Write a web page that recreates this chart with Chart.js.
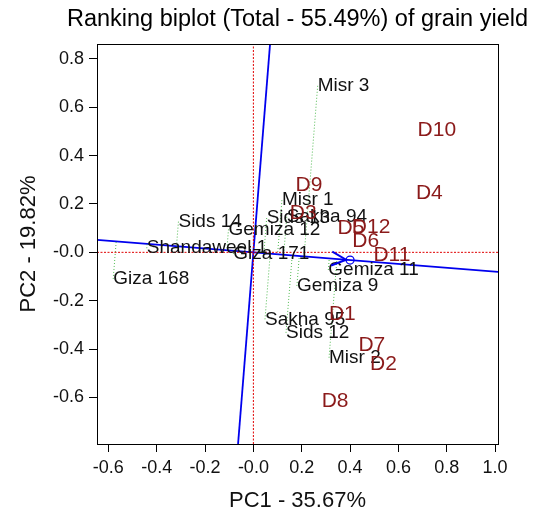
<!DOCTYPE html>
<html>
<head>
<meta charset="utf-8">
<script src="https://cdn.jsdelivr.net/npm/chart.js@4.4.1/dist/chart.umd.min.js"></script>
<style>
  html, body { margin: 0; padding: 0; background: #fff; }
</style>
</head>
<body>
<canvas id="biplot" width="538" height="512"></canvas>
<script>
// axis limits and ticks
const xMin = -0.647, xMax = 1.012;
const yMin = -0.793, yMax = 0.862;
const xTicks = [-0.6, -0.4, -0.2, 0, 0.2, 0.4, 0.6, 0.8, 1.0];
const xTickLabels = ['-0.6', '-0.4', '-0.2', '-0.0', '0.2', '0.4', '0.6', '0.8', '1.0'];
const yTicks = [-0.6, -0.4, -0.2, 0, 0.2, 0.4, 0.6, 0.8];
const yTickLabels = ['-0.6', '-0.4', '-0.2', '-0.0', '0.2', '0.4', '0.6', '0.8'];

// genotypes
const genotypes = ['Misr 3', 'Misr 1', 'Sids 14', 'Sids 13', 'Sakha 94', 'Gemiza 12', 'Shandaweel 1',
  'Giza 171', 'Giza 168', 'Gemiza 11', 'Gemiza 9', 'Sakha 95', 'Sids 12', 'Misr 2'];
const genoPC1 = [0.266, 0.118, -0.310, 0.055, 0.138, -0.103, -0.441, -0.083, -0.580, 0.310, 0.180, 0.048, 0.135, 0.313];
const genoPC2 = [0.689, 0.216, 0.127, 0.142, 0.147, 0.095, 0.017, -0.007, -0.110, -0.073, -0.139, -0.277, -0.333, -0.436];

// environments
const envs = ['D1', 'D2', 'D3', 'D4', 'D5', 'D6', 'D7', 'D8', 'D9', 'D10', 'D11', 'D12'];
const envPC1 = [0.368, 0.538, 0.206, 0.728, 0.404, 0.465, 0.490, 0.338, 0.230, 0.759, 0.573, 0.487];
const envPC2 = [-0.255, -0.462, 0.163, 0.245, 0.101, 0.047, -0.384, -0.615, 0.276, 0.506, -0.011, 0.105];

// average environment coordinate
const aec = [0.400, -0.032];

const FONT = '"Liberation Sans", Arial, sans-serif';
const BLUE = '#0000ee';
const ENV_COLOR = '#8b1a1a';

// ATC abscissa / ordinate through the origin
const slope = aec[1] / aec[0];
const abscissa = [{ x: xMin, y: slope * xMin }, { x: xMax, y: slope * xMax }];
const ordinate = [{ x: -yMin * slope, y: yMin }, { x: -yMax * slope, y: yMax }];

// projection of each genotype on the abscissa
const aa = aec[0] * aec[0] + aec[1] * aec[1];
const projLines = genotypes.map((g, i) => {
  const t = (genoPC1[i] * aec[0] + genoPC2[i] * aec[1]) / aa;
  return {
    type: 'line',
    data: [{ x: genoPC1[i], y: genoPC2[i] }, { x: t * aec[0], y: t * aec[1] }],
    borderColor: 'rgba(40,170,40,0.8)',
    borderWidth: 1,
    borderDash: [1, 2],
    pointRadius: 0
  };
});

const lineSet = (data, color, width, dash) => ({
  type: 'line', data, borderColor: color, borderWidth: width, borderDash: dash || [], pointRadius: 0
});

const labelPlugin = {
  id: 'labels',
  afterDatasetsDraw(chart) {
    const { ctx, scales: { x, y } } = chart;
    ctx.save();
    ctx.textBaseline = 'middle';
    ctx.textAlign = 'left';
    ctx.fillStyle = '#111';
    ctx.font = '19px ' + FONT;
    genotypes.forEach((g, i) => {
      ctx.fillText(g, x.getPixelForValue(genoPC1[i]), y.getPixelForValue(genoPC2[i]));
    });
    ctx.textAlign = 'center';
    ctx.fillStyle = ENV_COLOR;
    ctx.font = '21px ' + FONT;
    envs.forEach((e, i) => {
      ctx.fillText(e, x.getPixelForValue(envPC1[i]), y.getPixelForValue(envPC2[i]));
    });

    // arrow head at the average environment
    const ox = x.getPixelForValue(0), oy = y.getPixelForValue(0);
    const ax = x.getPixelForValue(aec[0]), ay = y.getPixelForValue(aec[1]);
    const ang = Math.atan2(ay - oy, ax - ox);
    const tipX = ax - 4 * Math.cos(ang), tipY = ay - 4 * Math.sin(ang);
    ctx.strokeStyle = BLUE;
    ctx.lineWidth = 2;
    ctx.beginPath();
    ctx.moveTo(tipX - 16 * Math.cos(ang - 0.45), tipY - 16 * Math.sin(ang - 0.45));
    ctx.lineTo(tipX, tipY);
    ctx.lineTo(tipX - 16 * Math.cos(ang + 0.45), tipY - 16 * Math.sin(ang + 0.45));
    ctx.stroke();
    ctx.lineWidth = 1.2;
    ctx.beginPath();
    ctx.arc(ax, ay, 4, 0, Math.PI * 2);
    ctx.stroke();
    ctx.restore();
  },
  afterDraw(chart) {
    const { ctx, chartArea: a } = chart;
    ctx.save();
    ctx.strokeStyle = '#000';
    ctx.lineWidth = 1;
    ctx.strokeRect(a.left + 0.5, a.top + 0.5, a.right - a.left, a.bottom - a.top);
    ctx.fillStyle = '#000';
    ctx.font = '23.5px ' + FONT;
    ctx.textAlign = 'center';
    ctx.textBaseline = 'middle';
    ctx.fillText('Ranking biplot (Total - 55.49%) of grain yield', (a.left + a.right) / 2, 20);
    ctx.restore();
  }
};

new Chart(document.getElementById('biplot'), {
  type: 'scatter',
  data: {
    datasets: [
      lineSet([{ x: xMin, y: 0 }, { x: xMax, y: 0 }], '#e00000', 1, [2, 1.5]),
      lineSet([{ x: 0, y: yMin }, { x: 0, y: yMax }], '#e00000', 1, [2, 1.5]),
      ...projLines,
      lineSet(abscissa, BLUE, 1.8),
      lineSet(ordinate, BLUE, 1.8),
      { data: genotypes.map((g, i) => ({ x: genoPC1[i], y: genoPC2[i] })), pointRadius: 0 },
      { data: envs.map((e, i) => ({ x: envPC1[i], y: envPC2[i] })), pointRadius: 0 }
    ]
  },
  options: {
    responsive: false,
    animation: false,
    layout: { padding: { top: 44, right: 40, left: 0, bottom: 0 } },
    plugins: { legend: { display: false }, tooltip: { enabled: false } },
    scales: {
      x: {
        type: 'linear', min: xMin, max: xMax,
        afterBuildTicks: s => { s.ticks = xTicks.map(v => ({ value: v })); },
        afterFit: s => { s.height = 68; },
        ticks: {
          callback: (v, i) => xTickLabels[i],
          font: { family: FONT, size: 18 }, color: '#111', padding: 5, maxRotation: 0, autoSkip: false
        },
        grid: { drawOnChartArea: false, drawTicks: true, tickLength: 8, color: '#000' },
        border: { display: true, color: '#000' },
        title: { display: true, text: 'PC1 - 35.67%', color: '#111', font: { family: FONT, size: 22, lineHeight: 1 }, padding: { top: 0, bottom: 0 } }
      },
      y: {
        type: 'linear', min: yMin, max: yMax,
        afterBuildTicks: s => { s.ticks = yTicks.map(v => ({ value: v })); },
        afterFit: s => { s.width = 97; },
        ticks: {
          callback: (v, i) => yTickLabels[i],
          font: { family: FONT, size: 18 }, color: '#111', padding: 5, autoSkip: false
        },
        grid: { drawOnChartArea: false, drawTicks: true, tickLength: 8, color: '#000' },
        border: { display: true, color: '#000' },
        title: { display: true, text: 'PC2 - 19.82%', color: '#111', font: { family: FONT, size: 22, lineHeight: 1 }, padding: { top: 18, bottom: 0 } }
      }
    }
  },
  plugins: [labelPlugin]
});
</script>
</body>
</html>
